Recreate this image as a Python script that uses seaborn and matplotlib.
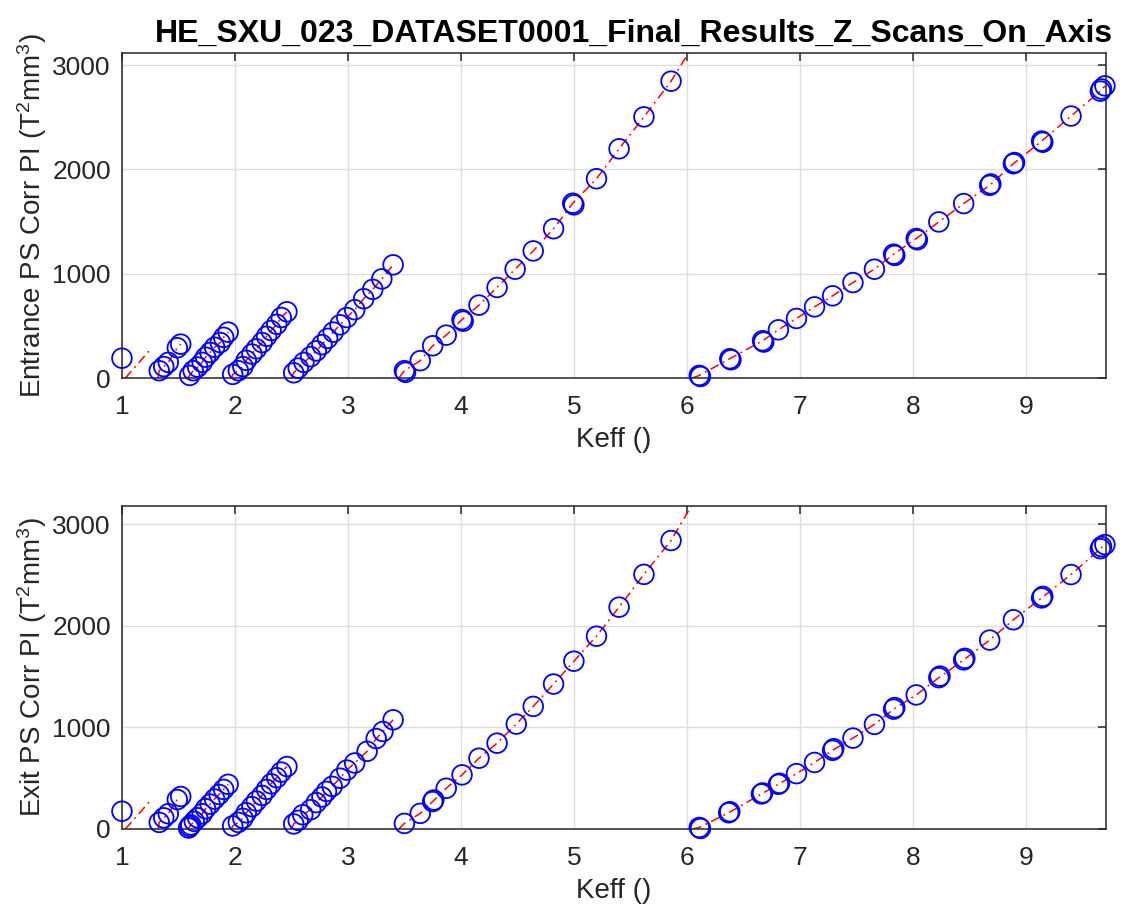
import pandas as pd
import matplotlib.pyplot as plt
import seaborn as sns

# ---- dữ liệu: Entrance (trên) ----
ent_x = [[1.00],
         [1.33, 1.37, 1.41, 1.49, 1.52],
         [1.60, 1.63, 1.67, 1.71, 1.74, 1.78, 1.82, 1.87, 1.90, 1.94],
         [1.98, 2.03, 2.07, 2.10, 2.15, 2.19, 2.24, 2.28, 2.32, 2.37, 2.41, 2.46],
         [2.52, 2.56, 2.61, 2.67, 2.72, 2.77, 2.82, 2.87, 2.93, 2.99, 3.06, 3.14, 3.22, 3.30, 3.40],
         [3.50, 3.64, 3.75, 3.87, 4.01, 4.16, 4.32, 4.48, 4.64, 4.82, 4.99, 5.20, 5.40, 5.62, 5.86],
         [6.11, 6.38, 6.67, 6.81, 6.97, 7.13, 7.29, 7.47, 7.66, 7.83, 8.03, 8.23, 8.45, 8.68, 8.89,
          9.14, 9.40, 9.66, 9.70]]
ent_y = [[190],
         [70, 110, 150, 290, 325],
         [25, 70, 105, 150, 200, 245, 295, 340, 390, 440],
         [35, 70, 110, 170, 230, 280, 340, 400, 455, 515, 580, 635],
         [50, 95, 150, 205, 260, 320, 380, 440, 510, 580, 655, 760, 850, 950, 1085],
         [70, 166, 309, 411, 560, 699, 868, 1043, 1218, 1431, 1675, 1910, 2197, 2503, 2845],
         [25, 185, 357, 462, 571, 682, 788, 915, 1043, 1187, 1337, 1496, 1672, 1847, 2054,
          2271, 2511, 2750, 2800]]
# các điểm trùng (vòng tròn đậm)
ent_dup_x = [3.51, 4.02, 5.00, 6.12, 6.39, 6.68, 7.84, 8.04, 8.69, 8.90, 9.15, 9.67]
ent_dup_y = [55, 545, 1660, 15, 175, 345, 1175, 1325, 1860, 2065, 2260, 2770]
# đường đỏ: điểm bắt đầu (y=0) và điểm kết thúc thêm
ent_line_start = [1.03, 1.32, 1.58, 1.97, 2.50, 3.45, 6.05]
ent_line_end_x = [1.26, None, None, None, None, 6.04, None]
ent_line_end_y = [284, None, None, None, None, 3160, None]

# ---- dữ liệu: Exit (dưới) ----
ext_x = [[1.00],
         [1.33, 1.37, 1.41, 1.49, 1.52],
         [1.59, 1.61, 1.64, 1.67, 1.71, 1.74, 1.78, 1.82, 1.86, 1.90, 1.94],
         [1.98, 2.03, 2.07, 2.10, 2.15, 2.19, 2.24, 2.28, 2.32, 2.37, 2.41, 2.46],
         [2.52, 2.56, 2.60, 2.67, 2.72, 2.77, 2.81, 2.86, 2.93, 2.99, 3.06, 3.17, 3.25, 3.31, 3.40],
         [3.50, 3.64, 3.75, 3.87, 4.01, 4.16, 4.32, 4.49, 4.64, 4.82, 5.00, 5.20, 5.40, 5.62, 5.86],
         [6.11, 6.37, 6.66, 6.81, 6.97, 7.13, 7.29, 7.47, 7.66, 7.83, 8.03, 8.23, 8.45, 8.68, 8.89,
          9.14, 9.40, 9.66, 9.70]]
ext_y = [[175],
         [65, 110, 150, 290, 320],
         [10, 40, 75, 110, 150, 200, 245, 295, 340, 390, 440],
         [30, 65, 105, 160, 220, 275, 330, 390, 445, 505, 560, 615],
         [50, 85, 140, 190, 260, 315, 370, 420, 500, 580, 650, 765, 890, 960, 1075],
         [55, 154, 270, 401, 533, 697, 845, 1033, 1207, 1427, 1652, 1898, 2184, 2507, 2840],
         [15, 160, 345, 440, 545, 655, 775, 895, 1030, 1180, 1320, 1490, 1665, 1860, 2060,
          2275, 2505, 2760, 2800]]
ext_dup_x = [1.60, 3.76, 6.12, 6.38, 6.67, 6.82, 7.30, 7.84, 8.24, 8.46, 9.15, 9.67]
ext_dup_y = [25, 285, 5, 170, 355, 450, 790, 1195, 1505, 1680, 2290, 2780]
ext_line_start = [1.03, 1.32, 1.57, 1.97, 2.50, 3.45, 6.05]
ext_line_end_x = [1.26, None, None, None, None, 6.06, None]
ext_line_end_y = [290, None, None, None, None, 3220, None]

xticks = [1, 2, 3, 4, 5, 6, 7, 8, 9]
yticks = [0, 1000, 2000, 3000]


def make_frames(seg_x, seg_y, dup_x, dup_y, start, end_x, end_y):
    pts, line = [], []
    for i, (xs, ys) in enumerate(zip(seg_x, seg_y)):
        for a, b in zip(xs, ys):
            pts.append((a, b))
        lx, ly = [start[i]], [0]
        if i > 0:
            lx += xs
            ly += ys
        if end_x[i] is not None:
            lx.append(end_x[i])
            ly.append(end_y[i])
        for a, b in zip(lx, ly):
            line.append((i, a, b))
    pts += list(zip(dup_x, dup_y))
    return (pd.DataFrame(pts, columns=['x', 'y']),
            pd.DataFrame(line, columns=['seg', 'x', 'y']))


sns.set_style('white')
plt.rcParams['font.family'] = ['Liberation Sans', 'DejaVu Sans']
plt.rcParams['mathtext.fontset'] = 'custom'
plt.rcParams['mathtext.rm'] = 'Liberation Sans'
plt.rcParams['mathtext.it'] = 'Liberation Sans'

fig = plt.figure(figsize=(11.23, 9.14), dpi=100)
ax1 = fig.add_axes([0.1086, 0.5864, 0.8763, 0.3556])
ax2 = fig.add_axes([0.1086, 0.0930, 0.8763, 0.3534])

panels = [
    (ax1, ent_x, ent_y, ent_dup_x, ent_dup_y, ent_line_start, ent_line_end_x, ent_line_end_y,
     r'Entrance PS Corr PI (T$^2$mm$^3$)', 3115),
    (ax2, ext_x, ext_y, ext_dup_x, ext_dup_y, ext_line_start, ext_line_end_x, ext_line_end_y,
     r'Exit PS Corr PI (T$^2$mm$^3$)', 3180),
]

dark = '#262626'
for ax, sx, sy, dx, dy, st, ex, ey, ylab, ytop in panels:
    pts_df, line_df = make_frames(sx, sy, dx, dy, st, ex, ey)
    sns.lineplot(data=line_df, x='x', y='y', units='seg', estimator=None, sort=False,
                 color='red', lw=1.1, linestyle=(0, (6, 3, 1.2, 3)), ax=ax, zorder=2)
    sns.scatterplot(data=pts_df, x='x', y='y', marker='o', s=200, color='blue',
                    facecolor='none', edgecolor='blue', linewidth=1.3, ax=ax, zorder=3,
                    clip_on=False)
    ax.set_xlim(1, 9.71)
    ax.set_ylim(0, ytop)
    ax.set_xticks(xticks)
    ax.set_yticks(yticks)
    ax.grid(True, color='#dedede', lw=1)
    ax.set_axisbelow(True)
    for sp in ax.spines.values():
        sp.set_color(dark)
        sp.set_linewidth(1.1)
        sp.set_visible(True)
    ax.tick_params(direction='in', top=True, right=True, length=6, width=1.1,
                   colors=dark, labelsize=19, labelcolor=dark)
    ax.tick_params(axis='x', pad=12)
    ax.tick_params(axis='y', pad=8)
    ax.set_xlabel('Keff ()', fontsize=20, color=dark, labelpad=6)
    ax.set_ylabel(ylab, fontsize=20, color=dark, labelpad=2)

ax1.set_title('HE_SXU_023_DATASET0001_Final_Results_Z_Scans_On_Axis',
              fontsize=23, fontweight='bold', color='black', x=0.52, pad=8)

fig.savefig('out.png', dpi=100)
